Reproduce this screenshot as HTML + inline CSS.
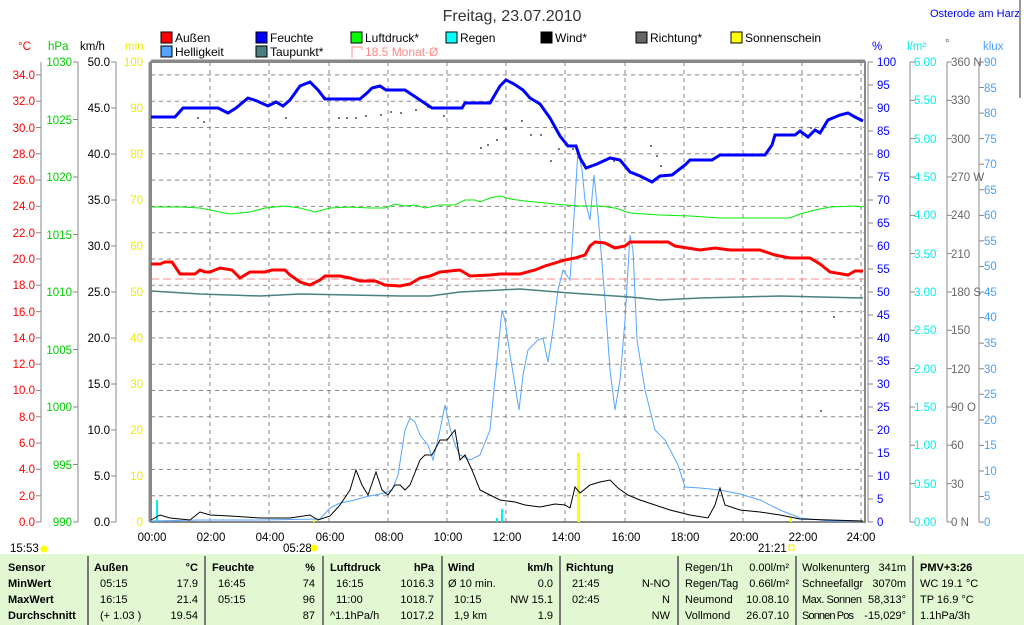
<!DOCTYPE html>
<html><head><meta charset="utf-8"><style>
html,body{margin:0;padding:0;background:#fff;}
svg{display:block;font-family:"Liberation Sans",sans-serif;font-size:11.5px;}
</style></head><body>
<svg width="1024" height="625" viewBox="0 0 1024 625">
<rect width="1024" height="625" fill="#fff"/>
<text x="512" y="21" font-size="16" text-anchor="middle" fill="#333">Freitag, 23.07.2010</text>
<text x="930" y="17" font-size="11" fill="#0000ff">Osterode am Harz</text>
<line x1="1020" y1="0" x2="1020" y2="98" stroke="#999" stroke-width="2"/>
<g font-size="12">
<rect x="161" y="32" width="11" height="11" fill="#f00" stroke="#000"/><text x="175" y="42">Außen</text>
<rect x="256" y="32" width="11" height="11" fill="#00f" stroke="#000"/><text x="270" y="42">Feuchte</text>
<rect x="351" y="32" width="11" height="11" fill="#0f0" stroke="#000"/><text x="365" y="42">Luftdruck*</text>
<rect x="446" y="32" width="11" height="11" fill="#0ff" stroke="#000"/><text x="460" y="42">Regen</text>
<rect x="541" y="32" width="11" height="11" fill="#000" stroke="#000"/><text x="555" y="42">Wind*</text>
<rect x="636" y="32" width="11" height="11" fill="#666" stroke="#000"/><text x="650" y="42">Richtung*</text>
<rect x="731" y="32" width="11" height="11" fill="#ff0" stroke="#000"/><text x="745" y="42">Sonnenschein</text>
<rect x="161" y="46" width="11" height="11" fill="#55a5ff" stroke="#000"/><text x="175" y="56">Helligkeit</text>
<rect x="256" y="46" width="11" height="11" fill="#4a8080" stroke="#000"/><text x="270" y="56">Taupunkt*</text>
<path d="M352 58 V47 H362 V50" fill="none" stroke="#f88"/><text x="365" y="56" fill="#f88">18.5 Monat-Ø</text>
</g>
<text x="18" y="50" fill="#f00">°C</text>
<text x="48" y="50" fill="#0c0">hPa</text>
<text x="80" y="50">km/h</text>
<text x="125" y="50" fill="#ee0">min</text>
<text x="872" y="50" fill="#00f">%</text>
<text x="907" y="50" fill="#0ee">l/m²</text>
<text x="945" y="47" fill="#666">°</text>
<text x="983" y="50" fill="#4aa0ff">klux</text>
<g stroke="#888" stroke-dasharray="4,4" stroke-width="1">
<line x1="151" y1="495.7" x2="865" y2="495.7"/><line x1="151" y1="469.4" x2="865" y2="469.4"/><line x1="151" y1="443.1" x2="865" y2="443.1"/><line x1="151" y1="416.8" x2="865" y2="416.8"/><line x1="151" y1="390.5" x2="865" y2="390.5"/><line x1="151" y1="364.2" x2="865" y2="364.2"/><line x1="151" y1="337.9" x2="865" y2="337.9"/><line x1="151" y1="311.6" x2="865" y2="311.6"/><line x1="151" y1="285.3" x2="865" y2="285.3"/><line x1="151" y1="259" x2="865" y2="259"/><line x1="151" y1="232.7" x2="865" y2="232.7"/><line x1="151" y1="206.4" x2="865" y2="206.4"/><line x1="151" y1="180.1" x2="865" y2="180.1"/><line x1="151" y1="153.8" x2="865" y2="153.8"/><line x1="151" y1="127.5" x2="865" y2="127.5"/><line x1="151" y1="101.2" x2="865" y2="101.2"/><line x1="151" y1="74.9" x2="865" y2="74.9"/>
<line x1="210" y1="62" x2="210" y2="522"/><line x1="269" y1="62" x2="269" y2="522"/><line x1="329" y1="62" x2="329" y2="522"/><line x1="388" y1="62" x2="388" y2="522"/><line x1="447" y1="62" x2="447" y2="522"/><line x1="506" y1="62" x2="506" y2="522"/><line x1="565" y1="62" x2="565" y2="522"/><line x1="625" y1="62" x2="625" y2="522"/><line x1="684" y1="62" x2="684" y2="522"/><line x1="743" y1="62" x2="743" y2="522"/><line x1="802" y1="62" x2="802" y2="522"/><line x1="861" y1="62" x2="861" y2="522"/>
</g>
<line x1="151" y1="279" x2="865" y2="279" stroke="#f88" stroke-dasharray="8,4"/>
<path d="M151 522 V62 H865 V522 Z" fill="none" stroke="#888" stroke-width="2"/>
<line x1="151" y1="61" x2="865" y2="61" stroke="#888" stroke-width="3"/>
<line x1="150" y1="62" x2="150" y2="522" stroke="#888" stroke-width="3"/>
<g stroke="#888">
<line x1="41" y1="62" x2="41" y2="522"/><line x1="78" y1="62" x2="78" y2="522"/><line x1="116" y1="62" x2="116" y2="522"/>
<line x1="868" y1="62" x2="868" y2="522"/><line x1="910" y1="62" x2="910" y2="522"/><line x1="947" y1="62" x2="947" y2="522"/><line x1="979" y1="62" x2="979" y2="522"/>
</g>
<g stroke="#888" stroke-width="5">
<line x1="38.5" y1="74.4" x2="38.5" y2="523" stroke-dasharray="1 25.3"/>
<line x1="75.5" y1="61.5" x2="75.5" y2="523" stroke-dasharray="1 56.5"/>
<line x1="113.5" y1="61.5" x2="113.5" y2="523" stroke-dasharray="1 45"/>
<line x1="870.5" y1="61.5" x2="870.5" y2="523" stroke-dasharray="1 22"/>
<line x1="912.5" y1="61.5" x2="912.5" y2="523" stroke-dasharray="1 37.33"/>
<line x1="949.5" y1="61.5" x2="949.5" y2="523" stroke-dasharray="1 37.33"/>
<line x1="981.5" y1="61.5" x2="981.5" y2="523" stroke-dasharray="1 24.56"/>
</g>
<g fill="#f00" text-anchor="end">
<text x="35" y="526">0.0</text><text x="35" y="500">2.0</text><text x="35" y="473">4.0</text><text x="35" y="447">6.0</text><text x="35" y="421">8.0</text><text x="35" y="394">10.0</text><text x="35" y="368">12.0</text><text x="35" y="342">14.0</text><text x="35" y="316">16.0</text><text x="35" y="289">18.0</text><text x="35" y="263">20.0</text><text x="35" y="237">22.0</text><text x="35" y="210">24.0</text><text x="35" y="184">26.0</text><text x="35" y="158">28.0</text><text x="35" y="132">30.0</text><text x="35" y="105">32.0</text><text x="35" y="79">34.0</text>
</g>
<g fill="#0c0" text-anchor="end">
<text x="72" y="526">990</text><text x="72" y="469">995</text><text x="72" y="411">1000</text><text x="72" y="354">1005</text><text x="72" y="296">1010</text><text x="72" y="239">1015</text><text x="72" y="181">1020</text><text x="72" y="124">1025</text><text x="72" y="66">1030</text>
</g>
<g text-anchor="end">
<text x="110" y="526">0.0</text><text x="110" y="480">5.0</text><text x="110" y="434">10.0</text><text x="110" y="388">15.0</text><text x="110" y="342">20.0</text><text x="110" y="296">25.0</text><text x="110" y="250">30.0</text><text x="110" y="204">35.0</text><text x="110" y="158">40.0</text><text x="110" y="112">45.0</text><text x="110" y="66">50.0</text>
</g>
<g fill="#ee0" text-anchor="end">
<text x="143" y="526">0</text><text x="143" y="480">10</text><text x="143" y="434">20</text><text x="143" y="388">30</text><text x="143" y="342">40</text><text x="143" y="296">50</text><text x="143" y="250">60</text><text x="143" y="204">70</text><text x="143" y="158">80</text><text x="143" y="112">90</text><text x="143" y="66">100</text>
</g>
<g fill="#00f">
<text x="877" y="526">0</text><text x="877" y="503">5</text><text x="877" y="480">10</text><text x="877" y="457">15</text><text x="877" y="434">20</text><text x="877" y="411">25</text><text x="877" y="388">30</text><text x="877" y="365">35</text><text x="877" y="342">40</text><text x="877" y="319">45</text><text x="877" y="296">50</text><text x="877" y="273">55</text><text x="877" y="250">60</text><text x="877" y="227">65</text><text x="877" y="204">70</text><text x="877" y="181">75</text><text x="877" y="158">80</text><text x="877" y="135">85</text><text x="877" y="112">90</text><text x="877" y="89">95</text><text x="877" y="66">100</text>
</g>
<g fill="#0ee">
<text x="914" y="526">0.00</text><text x="914" y="488">0.50</text><text x="914" y="449">1.00</text><text x="914" y="411">1.50</text><text x="914" y="373">2.00</text><text x="914" y="334">2.50</text><text x="914" y="296">3.00</text><text x="914" y="258">3.50</text><text x="914" y="219">4.00</text><text x="914" y="181">4.50</text><text x="914" y="143">5.00</text><text x="914" y="104">5.50</text><text x="914" y="66">6.00</text>
</g>
<g fill="#666">
<text x="951" y="526">0   N</text><text x="951" y="488">30</text><text x="951" y="449">60</text><text x="951" y="411">90  O</text><text x="951" y="373">120</text><text x="951" y="334">150</text><text x="951" y="296">180 S</text><text x="951" y="258">210</text><text x="951" y="219">240</text><text x="951" y="181">270 W</text><text x="951" y="143">300</text><text x="951" y="104">330</text><text x="951" y="66">360 N</text>
</g>
<g fill="#4aa0ff">
<text x="984" y="526">0</text><text x="984" y="500">5</text><text x="984" y="475">10</text><text x="984" y="449">15</text><text x="984" y="424">20</text><text x="984" y="398">25</text><text x="984" y="373">30</text><text x="984" y="347">35</text><text x="984" y="321">40</text><text x="984" y="296">45</text><text x="984" y="270">50</text><text x="984" y="245">55</text><text x="984" y="219">60</text><text x="984" y="194">65</text><text x="984" y="168">70</text><text x="984" y="143">75</text><text x="984" y="117">80</text><text x="984" y="92">85</text><text x="984" y="66">90</text>
</g>
<g text-anchor="middle">
<text x="152" y="541">00:00</text><text x="211" y="541">02:00</text><text x="270" y="541">04:00</text><text x="330" y="541">06:00</text><text x="389" y="541">08:00</text><text x="448" y="541">10:00</text><text x="507" y="541">12:00</text><text x="566" y="541">14:00</text><text x="626" y="541">16:00</text><text x="685" y="541">18:00</text><text x="744" y="541">20:00</text><text x="803" y="541">22:00</text><text x="861" y="541">24:00</text>
</g>
<text x="10" y="552">15:53</text><circle cx="44" cy="549" r="3.5" fill="#ff0"/>
<text x="283" y="552">05:28</text><circle cx="314" cy="548" r="3.5" fill="#ff0"/>
<text x="758" y="552">21:21</text><rect x="789" y="545" width="5" height="5" fill="none" stroke="#ee0"/>
<rect x="156" y="500" width="2" height="22" fill="#0ee"/>
<rect x="501" y="509" width="2" height="13" fill="#0ee"/>
<rect x="496" y="518" width="2" height="4" fill="#0ee"/>
<rect x="577" y="453" width="3" height="69" fill="#ff0"/>
<rect x="313" y="518" width="2" height="4" fill="#ff0"/>
<rect x="790" y="518" width="2" height="4" fill="#ff0"/>
<g fill="#777">
<rect x="197" y="117" width="2" height="2"/><rect x="203" y="121" width="2" height="2"/><rect x="285" y="117" width="2" height="2"/><rect x="338" y="117" width="2" height="2"/><rect x="346" y="117" width="2" height="2"/><rect x="355" y="117" width="2" height="2"/><rect x="365" y="115" width="2" height="2"/><rect x="380" y="114" width="2" height="2"/><rect x="390" y="111" width="2" height="2"/><rect x="400" y="112" width="2" height="2"/><rect x="415" y="109" width="2" height="2"/><rect x="427" y="106" width="2" height="2"/><rect x="443" y="115" width="2" height="2"/><rect x="480" y="147" width="2" height="2"/><rect x="487" y="144" width="2" height="2"/><rect x="496" y="139" width="2" height="2"/><rect x="505" y="128" width="2" height="2"/><rect x="521" y="120" width="2" height="2"/><rect x="530" y="134" width="2" height="2"/><rect x="540" y="134" width="2" height="2"/><rect x="550" y="160" width="2" height="2"/><rect x="558" y="148" width="2" height="2"/><rect x="572" y="148" width="2" height="2"/><rect x="613" y="160" width="2" height="2"/><rect x="650" y="145" width="2" height="2"/><rect x="656" y="155" width="2" height="2"/><rect x="660" y="165" width="2" height="2"/><rect x="810" y="127" width="2" height="2"/><rect x="833" y="316" width="2" height="2"/><rect x="820" y="410" width="2" height="2"/>
</g>
<polyline fill="none" stroke="#55a5ff" stroke-width="1" points="151,521 200,520 260,520 320,519 330,508 340,503 355,500 365,497 375,495 385,493 392,490 398,475 405,430 410,418 415,422 420,435 428,445 433,460 440,430 445,405 450,428 455,445 460,455 470,460 480,455 490,430 497,360 502,310 505,320 510,355 515,385 519,410 523,375 528,350 533,345 538,340 543,338 548,362 553,330 558,290 563,270 570,280 575,200 578,150 582,170 585,200 590,220 594,175 598,215 605,300 610,370 615,410 620,380 625,320 630,235 633,250 637,340 645,390 655,430 665,440 678,465 685,487 700,488 720,490 740,494 760,500 780,510 800,518 830,521 863,521"/>
<polyline fill="none" stroke="#000" stroke-width="1" points="151,520 160,515 170,518 190,520 200,512 210,515 230,516 260,518 290,518 310,515 318,520 330,516 340,505 350,490 356,470 362,485 368,495 376,472 382,490 388,495 395,485 400,485 405,490 410,485 420,460 425,455 432,455 440,440 447,440 455,430 460,460 465,455 472,470 480,490 490,495 500,500 515,502 525,505 540,507 555,504 565,505 570,508 575,487 580,493 590,485 600,482 610,480 618,488 628,495 640,500 655,505 670,510 690,515 708,518 715,505 720,488 725,505 740,510 760,512 780,515 800,519 830,520 863,521"/>
<polyline fill="none" stroke="#4a8080" stroke-width="1.5" points="151,291 200,294 260,296 300,294 350,295 400,296 430,296 460,292 500,290 520,289 545,291 570,293 600,295 630,297 660,300 700,298 740,297 780,296 820,297 863,298"/>
<polyline fill="none" stroke="#0e0" stroke-width="1" points="151,207 180,207 200,208 230,214 250,212 265,208 285,206 300,208 315,212 330,208 350,207 370,208 385,208 395,204 405,206 415,205 425,208 440,205 455,205 465,200 475,200 480,202 490,198 500,196 510,199 525,201 545,203 565,205 580,206 600,206 615,208 630,213 660,215 690,216 720,218 790,218 800,214 815,210 830,207 855,206 863,207"/>
<polyline fill="none" stroke="#f00" stroke-width="3" points="151,264 160,264 165,262 172,262 180,274 195,274 200,270 205,272 210,272 220,268 232,270 240,278 250,272 265,272 272,270 285,270 290,275 300,282 310,285 320,280 325,276 340,276 350,278 360,281 375,281 385,285 400,286 410,284 420,278 430,276 440,272 460,270 470,276 490,275 500,274 520,274 535,270 545,266 555,263 565,260 575,258 585,255 590,246 595,242 605,243 615,248 625,246 630,242 668,242 675,246 700,250 715,248 730,250 760,250 775,255 790,258 810,258 820,264 830,272 848,275 855,271 863,271"/>
<polyline fill="none" stroke="#00f" stroke-width="3" points="151,117 175,117 183,108 218,108 228,113 236,108 248,98 257,101 268,106 276,102 283,106 290,100 300,86 310,82 318,90 325,99 360,99 367,93 372,88 380,86 386,90 405,90 414,96 432,108 462,108 465,103 490,103 500,86 506,80 514,84 523,90 530,98 540,104 550,118 560,136 568,146 576,146 580,158 586,168 597,164 610,158 620,160 630,172 640,176 652,182 660,176 672,175 685,165 690,160 712,160 720,155 765,155 772,145 775,135 795,135 800,131 808,137 815,130 820,133 828,120 840,115 848,113 855,117 863,121"/>
<rect x="0" y="554" width="1024" height="71" fill="#e1f8d2"/>
<g stroke="#777" stroke-width="2">
<line x1="88" y1="556" x2="88" y2="625"/><line x1="205" y1="556" x2="205" y2="625"/><line x1="323" y1="556" x2="323" y2="625"/><line x1="442" y1="556" x2="442" y2="625"/><line x1="560" y1="556" x2="560" y2="625"/><line x1="678" y1="556" x2="678" y2="625"/><line x1="796" y1="556" x2="796" y2="625"/><line x1="913" y1="556" x2="913" y2="625"/>
</g>
<g font-size="11">
<g font-weight="bold">
<text x="8" y="571">Sensor</text><text x="8" y="587">MinWert</text><text x="8" y="603">MaxWert</text><text x="8" y="619">Durchschnitt</text>
<text x="94" y="571">Außen</text><text x="198" y="571" text-anchor="end">°C</text>
<text x="212" y="571">Feuchte</text><text x="315" y="571" text-anchor="end">%</text>
<text x="330" y="571">Luftdruck</text><text x="434" y="571" text-anchor="end">hPa</text>
<text x="448" y="571">Wind</text><text x="553" y="571" text-anchor="end">km/h</text>
<text x="566" y="571">Richtung</text>
<text x="920" y="571">PMV+3:26</text>
</g>
<text x="100" y="587">05:15</text><text x="198" y="587" text-anchor="end">17.9</text>
<text x="100" y="603">16:15</text><text x="198" y="603" text-anchor="end">21.4</text>
<text x="100" y="619">(+ 1.03 )</text><text x="198" y="619" text-anchor="end">19.54</text>
<text x="218" y="587">16:45</text><text x="315" y="587" text-anchor="end">74</text>
<text x="218" y="603">05:15</text><text x="315" y="603" text-anchor="end">96</text>
<text x="315" y="619" text-anchor="end">87</text>
<text x="336" y="587">16:15</text><text x="434" y="587" text-anchor="end">1016.3</text>
<text x="336" y="603">11:00</text><text x="434" y="603" text-anchor="end">1018.7</text>
<text x="330" y="619">^1.1hPa/h</text><text x="434" y="619" text-anchor="end">1017.2</text>
<text x="448" y="587">Ø 10 min.</text><text x="553" y="587" text-anchor="end">0.0</text>
<text x="454" y="603">10:15</text><text x="553" y="603" text-anchor="end">NW 15.1</text>
<text x="454" y="619">1,9 km</text><text x="553" y="619" text-anchor="end">1.9</text>
<text x="572" y="587">21:45</text><text x="670" y="587" text-anchor="end">N-NO</text>
<text x="572" y="603">02:45</text><text x="670" y="603" text-anchor="end">N</text>
<text x="670" y="619" text-anchor="end">NW</text>
<text x="685" y="571">Regen/1h</text><text x="789" y="571" text-anchor="end">0.00l/m²</text>
<text x="685" y="587">Regen/Tag</text><text x="789" y="587" text-anchor="end">0.66l/m²</text>
<text x="685" y="603">Neumond</text><text x="789" y="603" text-anchor="end">10.08.10</text>
<text x="685" y="619">Vollmond</text><text x="789" y="619" text-anchor="end">26.07.10</text>
<text x="802" y="571">Wolkenunterg</text><text x="906" y="571" text-anchor="end">341m</text>
<text x="802" y="587">Schneefallgr</text><text x="906" y="587" text-anchor="end">3070m</text>
<text x="802" y="603" textLength="60">Max. Sonnen</text><text x="906" y="603" text-anchor="end">58,313°</text>
<text x="802" y="619" textLength="52">Sonnen Pos</text><text x="906" y="619" text-anchor="end">-15,029°</text>
<text x="920" y="587">WC 19.1 °C</text>
<text x="920" y="603">TP 16.9 °C</text>
<text x="920" y="619">1.1hPa/3h</text>
</g>
</svg>
</body></html>
